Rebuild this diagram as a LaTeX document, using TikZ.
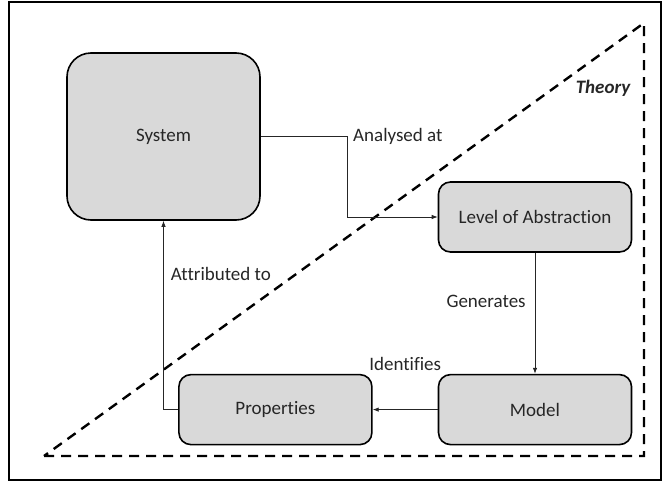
\documentclass[tikz,border=0pt]{standalone}
\usepackage{fontspec}
\setmainfont{Carlito}[Ligatures={NoCommon,NoRare}]
\usetikzlibrary{positioning,arrows.meta}
\definecolor{figgrey}{HTML}{D9D9D9}
\definecolor{figtext}{HTML}{262626}
\tikzset{
  fig/.style={font=\fontsize{19}{22}\selectfont,text=figtext},
  box/.style={draw,line width=1.6pt,fill=figgrey,rounded corners=12pt,
              minimum width=193pt,minimum height=70pt,align=center,inner sep=2pt},
  bigbox/.style={box,rounded corners=24pt,minimum height=167pt},
  ln/.style={-{Latex[length=6pt,width=4.5pt]},line width=0.8pt,draw=black!85},
  lbl/.style={inner sep=2pt},
  theory/.style={line width=2.4pt,dash pattern=on 10pt off 7pt},
}

\begin{document}
\begin{tikzpicture}[fig,x=1pt,y=-1pt]
\useasboundingbox (0,0) rectangle (663,482);

% --- frame and the theory triangle
\draw[line width=2pt] (9,2) rectangle (661,480);
\draw[theory] (44,456) -- (644,456) -- (644,23) -- cycle;
\node[lbl,font=\fontsize{19}{22}\selectfont\bfseries\itshape] (th) at (603,88) {Theory};

% --- boxes --------------------------------------------------------------
\node[bigbox] (sys) at (163.5,136.5) {System};
\node[box] (lev) at (535,217) {Level of Abstraction};
\node[box,below=121pt of lev] (mod) {Model};
\node[box,left=65pt of mod] (props) {Properties};

% --- connectors
\draw[ln] (sys.east) -- ++(87pt,0) node[lbl,anchor=west,xshift=3pt]{Analysed at} |- (lev.west);
\draw[ln] (lev) -- node[lbl,left=7pt,pos=0.4]{Generates} (mod);
\draw[ln] (mod) -- node[lbl,above=37pt]{Identifies} (props);
\draw[ln] (props.west) -| node[lbl,right=5pt,pos=0.86]{Attributed to} (sys.south);

\end{tikzpicture}
\end{document}
